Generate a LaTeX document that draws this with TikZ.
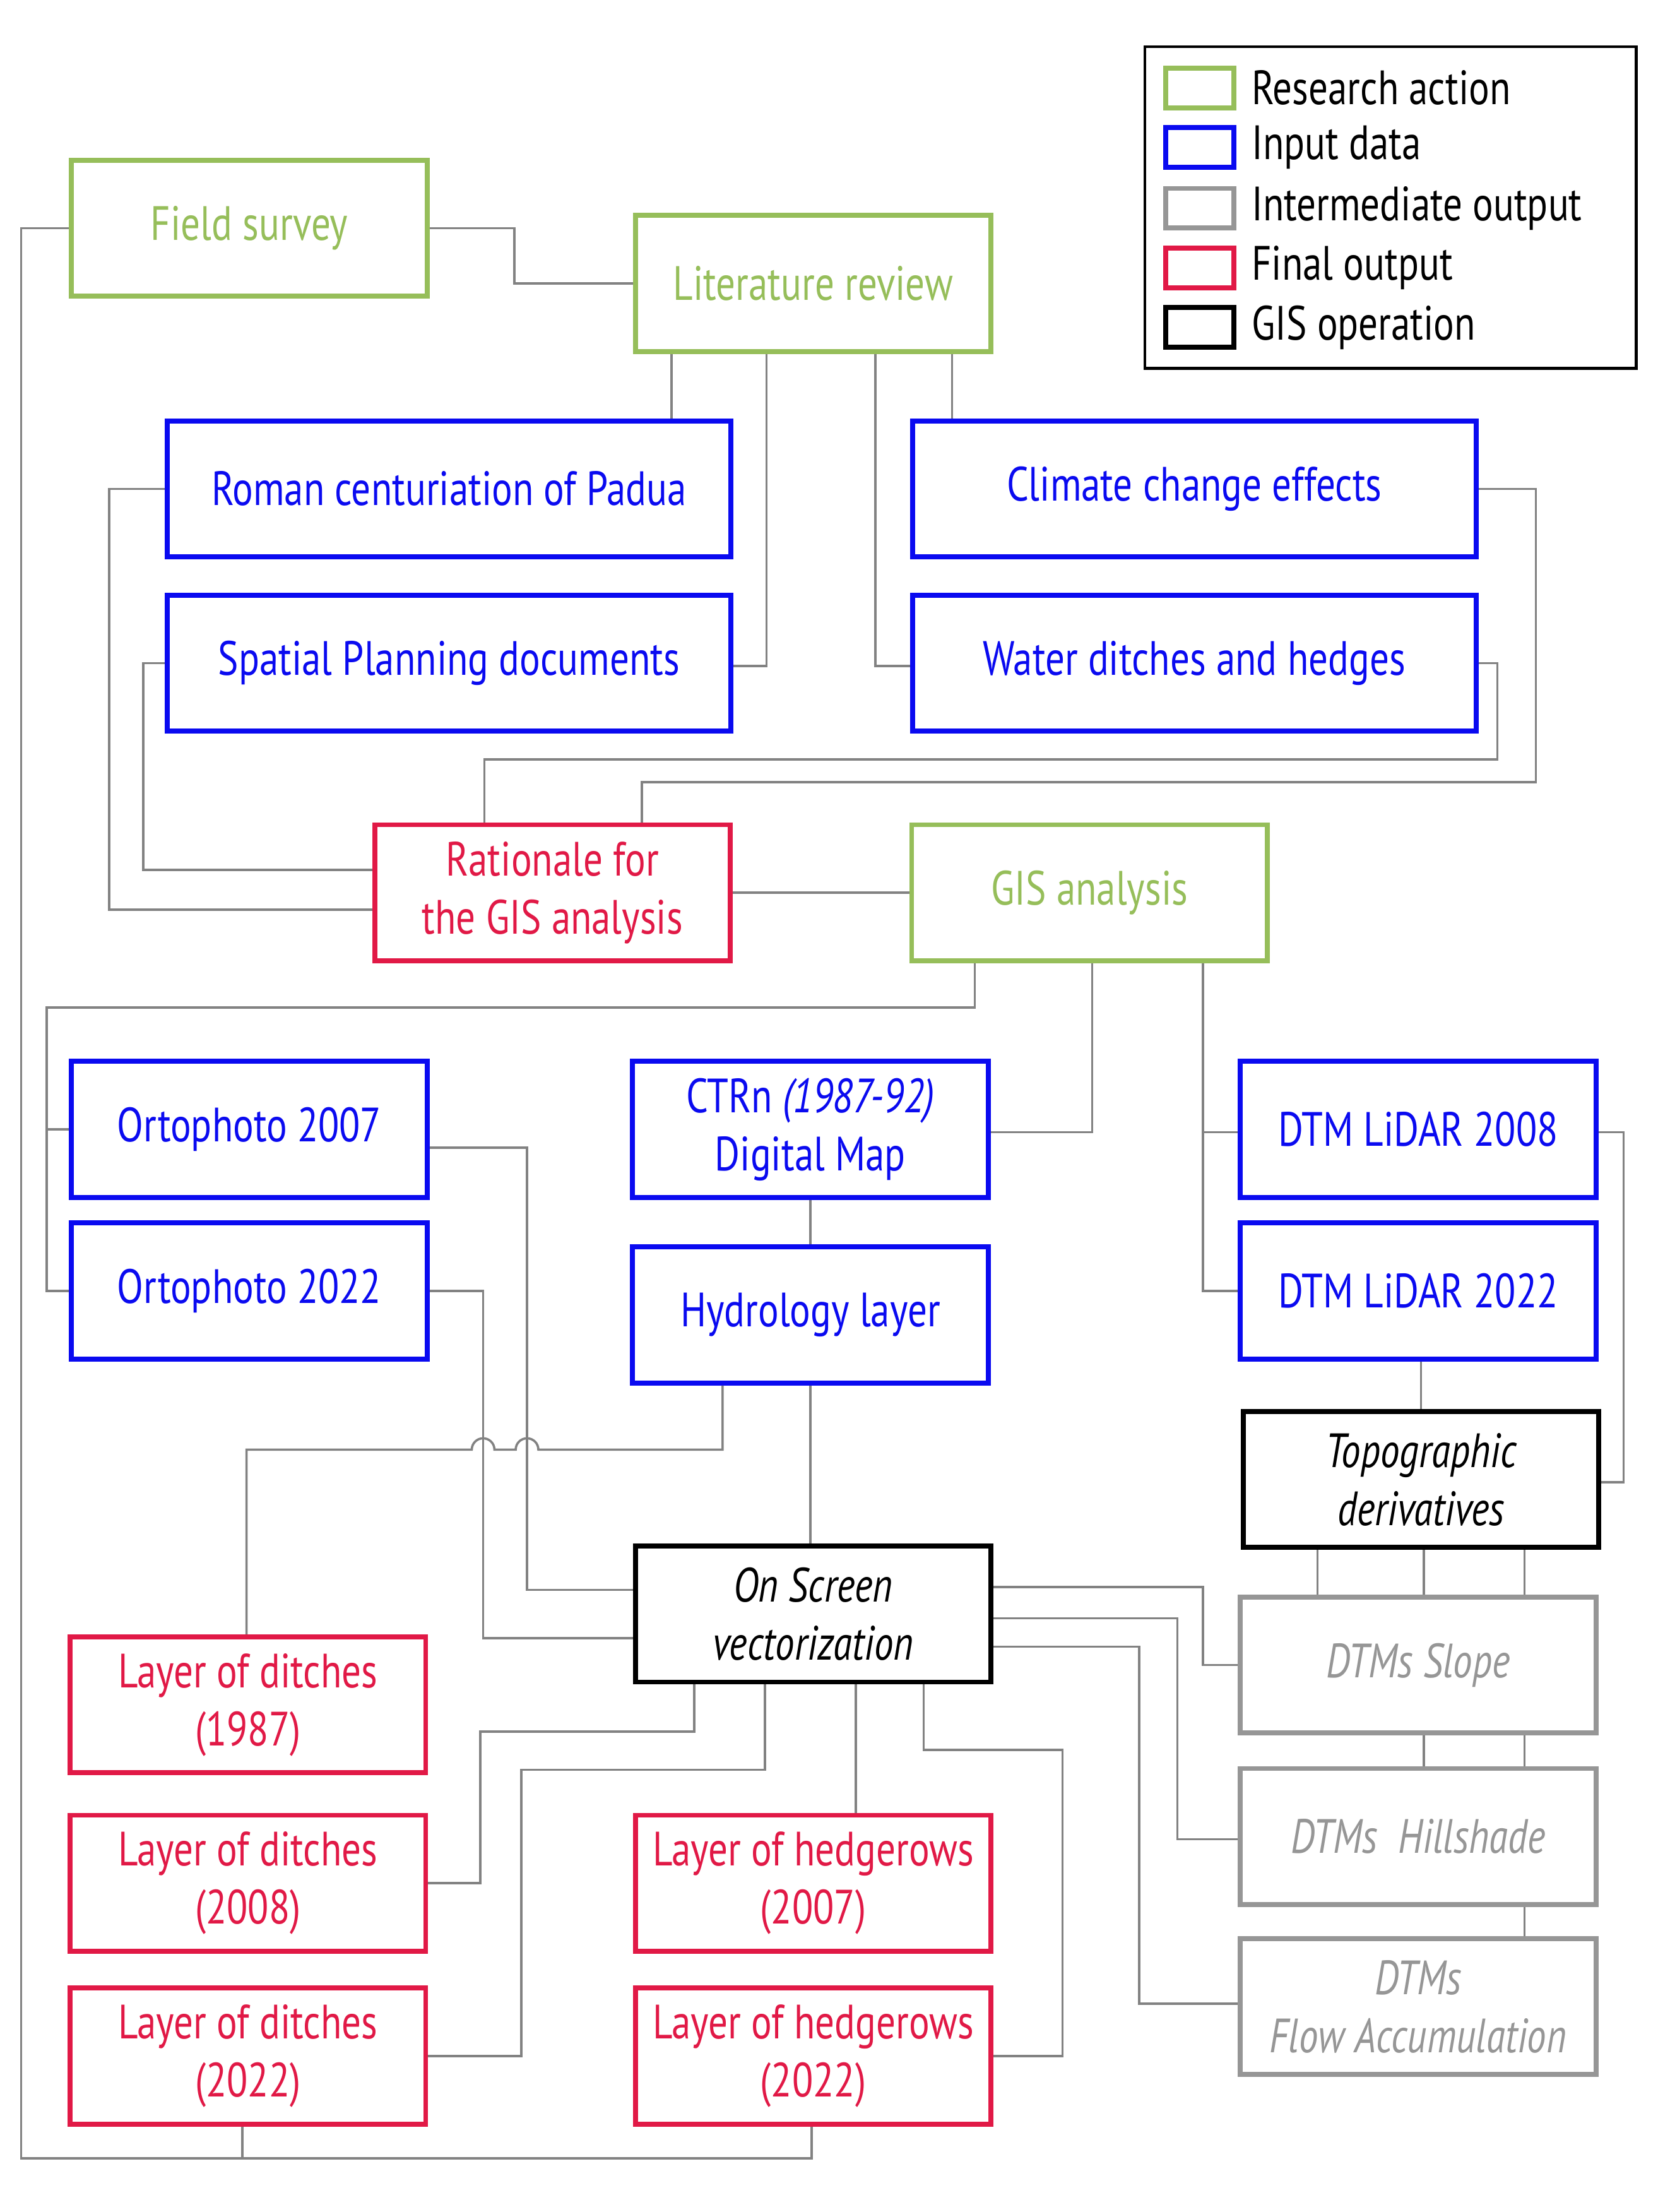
\documentclass[tikz,border=0pt]{standalone}
\usepackage{fontspec}
\setmainfont{PT Sans}[FakeStretch=0.8]
\definecolor{cg}{RGB}{150,190,90}
\definecolor{cb}{RGB}{10,10,240}
\definecolor{cr}{RGB}{225,25,70}
\definecolor{cy}{RGB}{150,150,150}
\definecolor{cl}{RGB}{130,130,130}
\begin{document}
\begin{tikzpicture}[x=1pt,y=-1pt,
 box/.style={draw,line width=3.5pt,minimum width=251pt,minimum height=96pt,inner sep=1pt,align=center,font=\fontsize{34}{41}\selectfont},
 ra/.style={box,draw=cg,text=cg},
 ind/.style={box,draw=cb,text=cb},
 fo/.style={box,draw=cr,text=cr},
 io/.style={box,draw=cy,text=cy,font=\fontsize{34}{41}\selectfont\itshape},
 gis/.style={box,draw=black,text=black,font=\fontsize{34}{41}\selectfont\itshape},
 wide/.style={minimum width=398pt},
 ln/.style={draw=cl,line width=1.6pt},
 lg/.style={draw,line width=3.5pt,minimum width=48pt,minimum height=28pt,inner sep=0pt},
 lt/.style={anchor=west,font=\fontsize{34}{38}\selectfont}]
\useasboundingbox (0,0) rectangle (1170,1561);
\fill[white] (0,0) rectangle (1170,1561);
% nodes
\node[ra] (fs) at (176,161) {Field survey};
\node[ra] (lit) at (574,200) {Literature review};
\node[ind,wide] (rom) at (317,345) {Roman centuriation of Padua};
\node[ind,wide] (cli) at (843,345) {Climate change effects};
\node[ind,wide] (spa) at (317,468) {Spatial Planning documents};
\node[ind,wide] (wat) at (843,468) {Water ditches and hedges};
\node[fo] (rat) at (390,630) {Rationale for\\the GIS analysis};
\node[ra] (gisa) at (769,630) {GIS analysis};
\node[ind] (o07) at (176,797) {Ortophoto 2007};
\node[ind] (o22) at (176,911) {Ortophoto 2022};
\node[ind] (ctr) at (572,797) {CTRn \textit{(1987-92)}\\Digital Map};
\node[ind] (hyd) at (572,928) {Hydrology layer};
\node[ind] (d08) at (1001,797) {DTM LiDAR 2008};
\node[ind] (d22) at (1001,911) {DTM LiDAR 2022};
\node[gis] (top) at (1003,1044) {Topographic\\derivatives};
\node[gis] (ons) at (574,1139) {On Screen\\vectorization};
\node[io] (slo) at (1001,1175) {DTMs Slope};
\node[io] (hil) at (1001,1296) {DTMs~~Hillshade};
\node[io] (flo) at (1001,1416) {DTMs\\Flow Accumulation};
\node[fo] (l87) at (175,1203) {Layer of ditches\\(1987)};
\node[fo] (l08) at (175,1329) {Layer of ditches\\(2008)};
\node[fo] (l22) at (175,1451) {Layer of ditches\\(2022)};
\node[fo] (h07) at (574,1329) {Layer of hedgerows\\(2007)};
\node[fo] (h22) at (574,1451) {Layer of hedgerows\\(2022)};
% legend
\node[draw,line width=2pt,minimum width=347pt,minimum height=227pt] (leg) at (981.5,146.5) {};
\node[lg,draw=cg] (k1) at (847,62) {}; \node[lt] (t1) at (880,62) {Research action};
\node[lg,draw=cb] (k2) at (847,104) {}; \node[lt] (t2) at (880,104) {Input data};
\node[lg,draw=cy] (k3) at (847,147) {}; \node[lt] (t3) at (880,147) {Intermediate output};
\node[lg,draw=cr] (k4) at (847,189) {}; \node[lt] (t4) at (880,189) {Final output};
\node[lg,draw=black] (k5) at (847,231) {}; \node[lt] (t5) at (880,231) {GIS operation};
% connectors
\path[ln] (fs.east) -- (363,161) -- (363,200) -- (lit.west);
\path[ln] (fs.west) -- (15,161) -- (15,1523) -- (573,1523) -- (h22.south -| 573,0);
\path[ln] (171,1523) -- (l22.south -| 171,0);
\path[ln] (lit.south -| 474,0) -- (rom.north -| 474,0);
\path[ln] (lit.south -| 541,0) -- (541,470) -- (spa.east |- 0,470);
\path[ln] (lit.south -| 618,0) -- (618,470) -- (wat.west |- 0,470);
\path[ln] (lit.south -| 672,0) -- (cli.north -| 672,0);
\path[ln] (rom.west) -- (77,345) -- (77,642) -- (rat.west |- 0,642);
\path[ln] (spa.west) -- (101,468) -- (101,614) -- (rat.west |- 0,614);
\path[ln] (wat.east) -- (1057,468) -- (1057,536) -- (342,536) -- (rat.north -| 342,0);
\path[ln] (cli.east) -- (1084,345) -- (1084,552) -- (453,552) -- (rat.north -| 453,0);
\path[ln] (rat.east) -- (gisa.west);
\path[ln] (gisa.south -| 688,0) -- (688,711) -- (33,711) -- (33,911) -- (o22.west);
\path[ln] (33,797) -- (o07.west);
\path[ln] (gisa.south -| 771,0) -- (771,799) -- (ctr.east |- 0,799);
\path[ln] (gisa.south -| 849,0) -- (849,911) -- (d22.west);
\path[ln] (849,799) -- (d08.west |- 0,799);
\path[ln] (ctr.south) -- (hyd.north);
\path[ln] (hyd.south) -- (ons.north -| hyd.south);
\path[ln] (hyd.south -| 510,0) -- (510,1023) -- (380,1023) arc[start angle=0,end angle=-180,radius=8] -- (349,1023) arc[start angle=0,end angle=-180,radius=8] -- (174,1023) -- (l87.north -| 174,0);
\path[ln] (o07.east |- 0,810) -- (372,810) -- (372,1122) -- (ons.west |- 0,1122);
\path[ln] (o22.east) -- (341,911) -- (341,1156) -- (ons.west |- 0,1156);
\path[ln] (d22.south -| 1003,0) -- (top.north);
\path[ln] (d08.east |- 0,799) -- (1146,799) -- (1146,1046) -- (top.east |- 0,1046);
\path[ln] (top.south -| 930,0) -- (slo.north -| 930,0);
\path[ln] (top.south -| 1005,0) -- (slo.north -| 1005,0);
\path[ln] (top.south -| 1076,0) -- (slo.north -| 1076,0);
\path[ln] (slo.south -| 1005,0) -- (hil.north -| 1005,0);
\path[ln] (slo.south -| 1076,0) -- (hil.north -| 1076,0);
\path[ln] (hil.south -| 1076,0) -- (flo.north -| 1076,0);
\path[ln] (ons.east |- 0,1120) -- (849,1120) -- (849,1175) -- (slo.west);
\path[ln] (ons.east |- 0,1142) -- (831,1142) -- (831,1298) -- (hil.west |- 0,1298);
\path[ln] (ons.east |- 0,1162) -- (804,1162) -- (804,1414) -- (flo.west |- 0,1414);
\path[ln] (ons.south -| 490,0) -- (490,1222) -- (339,1222) -- (339,1329) -- (l08.east);
\path[ln] (ons.south -| 540,0) -- (540,1249) -- (368,1249) -- (368,1451) -- (l22.east);
\path[ln] (ons.south -| 604,0) -- (h07.north -| 604,0);
\path[ln] (ons.south -| 652,0) -- (652,1235) -- (750,1235) -- (750,1451) -- (h22.east);
\end{tikzpicture}
\end{document}
